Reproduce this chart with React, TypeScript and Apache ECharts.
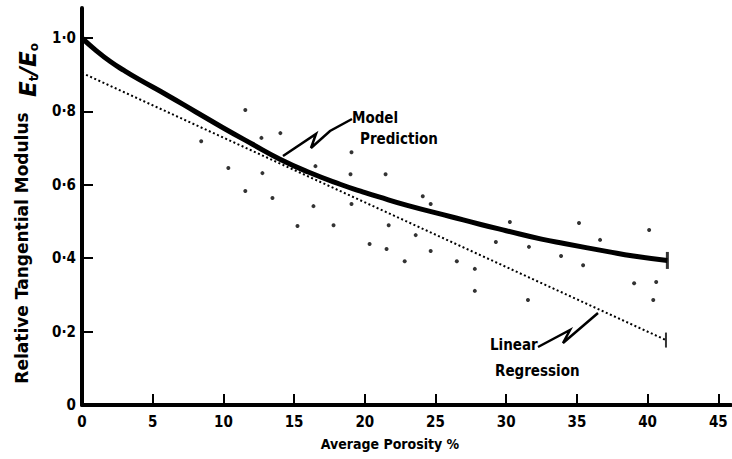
import React, { useEffect, useRef } from 'react';
import * as echarts from 'echarts';

const xTicks = [0, 5, 10, 15, 20, 25, 30, 35, 40, 45];
const yTicks = [0, 0.2, 0.4, 0.6, 0.8, 1.0];

const porosity = [8.43, 10.35, 11.55, 11.55, 12.69, 12.76, 13.47, 14.03, 15.24, 16.37, 16.51, 17.79, 18.99, 19.06, 19.06, 20.34, 21.47, 21.54, 21.69, 22.82, 23.6, 24.1, 24.66, 24.66, 26.51, 27.78, 27.78, 29.27, 30.26, 31.54, 31.61, 33.88, 35.15, 35.44, 36.64, 39.05, 40.11, 40.4, 40.61];
const modulus = [0.719, 0.646, 0.804, 0.583, 0.728, 0.632, 0.564, 0.741, 0.488, 0.542, 0.651, 0.49, 0.629, 0.689, 0.548, 0.439, 0.629, 0.425, 0.49, 0.392, 0.463, 0.569, 0.548, 0.42, 0.392, 0.371, 0.311, 0.444, 0.499, 0.286, 0.431, 0.406, 0.496, 0.381, 0.45, 0.332, 0.477, 0.286, 0.335];

const modelX = [0, 1, 2, 3, 4, 6, 8, 10, 12, 14, 16, 18.3, 19.7, 21, 23, 26.1, 28.2, 30, 32.5, 34.1, 37.2, 39, 41.4];
const modelY = [1.0, 0.966, 0.936, 0.911, 0.888, 0.845, 0.8, 0.755, 0.712, 0.67, 0.635, 0.601, 0.583, 0.567, 0.544, 0.513, 0.492, 0.475, 0.452, 0.44, 0.418, 0.406, 0.394];

const regX = [0, 41.3];
const regY = [0.905, 0.177];

const FONT = "'Liberation Sans Narrow', 'DejaVu Sans Condensed', sans-serif";

export default function App() {
  const ref = useRef<HTMLDivElement>(null);
  useEffect(() => {
    if (!ref.current) return;
    const chart = echarts.init(ref.current, null, { renderer: 'svg' });
    const fmtY = (v: number) => (v === 0 ? '0' : v.toFixed(1).replace('.', '·'));
    chart.setOption({
      animation: false,
      backgroundColor: '#ffffff',
      grid: { left: 82, top: 8, right: 1, bottom: 54 },
      xAxis: {
        type: 'value',
        min: 0,
        max: 45.9,
        interval: 5,
        splitLine: { show: false },
        axisLine: { show: true, lineStyle: { color: '#000', width: 4 } },
        axisTick: { show: true, inside: true, length: 11, lineStyle: { color: '#000', width: 2 }, customValues: xTicks },
        axisLabel: { color: '#000', fontFamily: FONT, fontWeight: 'bold', fontSize: 15, margin: 9, customValues: xTicks },
      },
      yAxis: {
        type: 'value',
        min: 0,
        max: 1.082,
        interval: 0.2,
        splitLine: { show: false },
        axisLine: { show: true, lineStyle: { color: '#000', width: 4 } },
        axisTick: { show: true, inside: true, length: 11, lineStyle: { color: '#000', width: 2 }, customValues: yTicks },
        axisLabel: { color: '#000', fontFamily: FONT, fontWeight: 'bold', fontSize: 15, margin: 6, customValues: yTicks, formatter: fmtY },
      },
      series: [
        {
          type: 'scatter',
          data: porosity.map((x, i) => [x, modulus[i]]),
          symbol: 'circle',
          symbolSize: 4,
          itemStyle: { color: '#000' },
          z: 3,
        },
        {
          type: 'line',
          data: modelX.map((x, i) => [x, modelY[i]]),
          smooth: 0.5,
          showSymbol: false,
          lineStyle: { color: '#000', width: 5 },
          z: 4,
        },
        {
          type: 'line',
          data: regX.map((x, i) => [x, regY[i]]),
          showSymbol: false,
          lineStyle: { color: '#000', width: 2, type: [2, 2.5] },
          z: 4,
        },
        {
          type: 'scatter',
          data: [[modelX[modelX.length - 1], modelY[modelY.length - 1]]],
          symbol: 'rect',
          symbolSize: [3, 17],
          itemStyle: { color: '#000' },
          z: 5,
        },
        {
          type: 'scatter',
          data: [[regX[1], regY[1]]],
          symbol: 'rect',
          symbolSize: [2, 15],
          itemStyle: { color: '#000' },
          z: 5,
        },
      ],
      graphic: [
        { type: 'text', left: 352, top: 110, style: { text: 'Model', font: `bold 15px ${FONT}`, fill: '#000' } },
        { type: 'text', left: 360, top: 131, style: { text: 'Prediction', font: `bold 15px ${FONT}`, fill: '#000' } },
        { type: 'polyline', shape: { points: [[283, 156], [316, 134], [311, 148], [330, 131], [352, 119]] }, style: { stroke: '#000', lineWidth: 2.5, fill: null } },
        { type: 'text', left: 490, top: 337, style: { text: 'Linear', font: `bold 15px ${FONT}`, fill: '#000' } },
        { type: 'text', left: 495, top: 363, style: { text: 'Regression', font: `bold 15px ${FONT}`, fill: '#000' } },
        { type: 'polyline', shape: { points: [[538, 347], [570, 330], [563, 343], [598, 313]] }, style: { stroke: '#000', lineWidth: 2.5, fill: null } },
        { type: 'text', x: 390, y: 444, style: { text: 'Average Porosity %', font: `bold 14px ${FONT}`, fill: '#000', align: 'center', verticalAlign: 'middle' } },
        { type: 'text', x: 22, y: 248, rotation: Math.PI / 2, style: { text: 'Relative Tangential Modulus', font: `bold 17px 'DejaVu Sans', sans-serif`, fill: '#000', align: 'center', verticalAlign: 'middle' } },
        {
          type: 'text', x: 28, y: 70, rotation: Math.PI / 2,
          style: {
            text: '{E|E}{s|t}{E|/E}{s|o}',
            align: 'center', verticalAlign: 'middle', fill: '#000',
            rich: {
              E: { font: `italic bold 23px 'DejaVu Sans', sans-serif`, fill: '#000' },
              s: { font: `bold 12px 'DejaVu Sans', sans-serif`, fill: '#000', verticalAlign: 'bottom', padding: [8, 0, 0, 0] },
            },
          },
        },
      ],
    });
    return () => chart.dispose();
  }, []);
  return <div ref={ref} style={{ position: 'fixed', left: 0, top: 0, width: 732, height: 459 }} />;
}
